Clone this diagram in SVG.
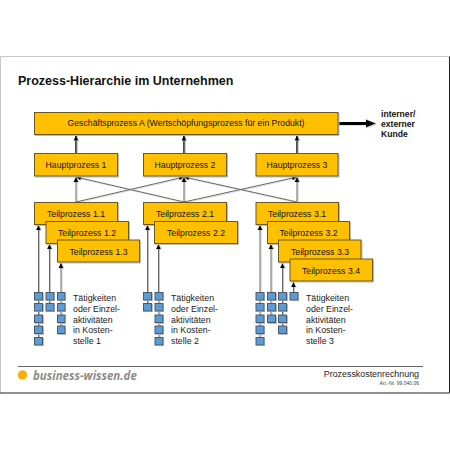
<svg xmlns="http://www.w3.org/2000/svg" width="450" height="450" viewBox="0 0 450 450">
<style>
text{font-family:"Liberation Sans",Arial,sans-serif;fill:#111}
.b{fill:#ffc000;stroke:#6b5a20;stroke-width:1;filter:url(#x)}
.t{font-size:8.7px;text-anchor:middle}
.q{fill:#5b9bd5;stroke:#4a5a68;stroke-width:1;filter:url(#x)}
.l{font-size:8.8px;fill:#222}
.c{fill:none;stroke:#666;stroke-width:1}
.k{fill:none;stroke:#111;stroke-width:1.5}
.u{font-size:8.6px;font-weight:bold}
</style>
<defs>
<marker id="a" markerUnits="userSpaceOnUse" markerWidth="6" markerHeight="6" refX="5" refY="3" orient="auto"><path d="M0 0.6L5 3L0 5.4Z" fill="#000"/></marker>
<filter id="x" x="-10%" y="-10%" width="120%" height="120%"><feDropShadow dx="1" dy="1" stdDeviation="0.4" flood-color="#bbb"/></filter>
<filter id="y" filterUnits="userSpaceOnUse" x="0" y="100" width="450" height="260"><feDropShadow dx="1" dy="0.5" stdDeviation="0.3" flood-color="#c4c4c4"/></filter>
</defs>
<rect x="0" y="57" width="450" height="336" fill="#fff"/>
<path d="M0.5 393V56.500H449" fill="none" stroke="#c8c8c8" stroke-width="1"/>
<path d="M0 393H449.500V56.500" fill="none" stroke="#222" stroke-width="1"/>
<text x="18" y="84.500" style="font-size:12.500px;font-weight:bold">Prozess-Hierarchie im Unternehmen</text>

<g id="connectors" filter="url(#y)">
<path d="M76 153V135.500" class="k" marker-end="url(#a)"/>
<path d="M184 153V135.500" class="k" marker-end="url(#a)"/>
<path d="M297 153V135.500" class="k" marker-end="url(#a)"/>
<path d="M338 123.500H368" fill="none" stroke="#000" stroke-width="3"/>
<path d="M366 119.500L376 123.500L366 127.500Z" fill="#000"/>
<path class="c" d="M76 202V177" marker-end="url(#a)"/>
<path class="c" d="M76 202L184 177" marker-end="url(#a)"/>
<path class="c" d="M184 202L76 177" marker-end="url(#a)"/>
<path class="c" d="M184 202V177" marker-end="url(#a)"/>
<path class="c" d="M184 202L297 177" marker-end="url(#a)"/>
<path class="c" d="M297 202L184 177" marker-end="url(#a)"/>
<path class="c" d="M297 202V177" marker-end="url(#a)"/>
<path class="c" d="M38.500 292V225" marker-end="url(#a)"/>
<path class="c" d="M49.500 292V244" marker-end="url(#a)"/>
<path class="c" d="M61 292V263" marker-end="url(#a)"/>
<path class="c" d="M147.500 292V225" marker-end="url(#a)"/>
<path class="c" d="M158.500 292V244" marker-end="url(#a)"/>
<path class="c" d="M260 292V225" marker-end="url(#a)"/>
<path class="c" d="M271 292V244" marker-end="url(#a)"/>
<path class="c" d="M282.500 292V263" marker-end="url(#a)"/>
<path class="c" d="M293.500 292V282" marker-end="url(#a)"/>
<path class="c" d="M38.500 300V338M61 300V327M49.500 300V305M147.500 300V305M159 300V338M260 300V338M271 300V316M282.500 300V327"/>
</g>

<g id="geschaeftsprozess"><rect class="b" x="34.500" y="112.500" width="303.500" height="22"/><text class="t" x="186" y="126">Geschäftsprozess A (Wertschöpfungsprozess für ein Produkt)</text></g>
<g id="kunde"><text class="u" x="381" y="117">interner/</text><text class="u" x="381" y="127">externer</text><text class="u" x="381" y="137">Kunde</text></g>
<g id="h1"><rect class="b" x="34.500" y="153.500" width="83" height="22.500"/><text class="t" x="76" y="168">Hauptprozess 1</text></g>
<g id="h2"><rect class="b" x="143.500" y="153.500" width="83" height="22.500"/><text class="t" x="185" y="168">Hauptprozess 2</text></g>
<g id="h3"><rect class="b" x="256" y="153.500" width="82" height="22.500"/><text class="t" x="297" y="168">Hauptprozess 3</text></g>

<g id="t11"><rect class="b" x="34.500" y="202.500" width="83" height="22"/><text class="t" x="76" y="217">Teilprozess 1.1</text></g>
<g id="t12"><rect class="b" x="46" y="221.500" width="82.500" height="22"/><text class="t" x="87" y="236">Teilprozess 1.2</text></g>
<g id="t13"><rect class="b" x="57.500" y="240" width="82" height="22"/><text class="t" x="98.500" y="255">Teilprozess 1.3</text></g>
<g id="t21"><rect class="b" x="143.500" y="202.500" width="83" height="22"/><text class="t" x="185" y="217">Teilprozess 2.1</text></g>
<g id="t22"><rect class="b" x="154.500" y="221.500" width="83" height="22"/><text class="t" x="196" y="236">Teilprozess 2.2</text></g>
<g id="t31"><rect class="b" x="256" y="202.500" width="82.500" height="22"/><text class="t" x="297" y="217">Teilprozess 3.1</text></g>
<g id="t32"><rect class="b" x="267.500" y="221.500" width="82" height="22"/><text class="t" x="308.500" y="236">Teilprozess 3.2</text></g>
<g id="t33"><rect class="b" x="278.500" y="240" width="82.500" height="22"/><text class="t" x="320" y="255">Teilprozess 3.3</text></g>
<g id="t34"><rect class="b" x="290" y="259" width="82.500" height="22"/><text class="t" x="331" y="274">Teilprozess 3.4</text></g>

<g id="activities1">
<rect class="q" x="34.500" y="292.500" width="8" height="7.500"/><rect class="q" x="34.500" y="303.500" width="8" height="7.500"/><rect class="q" x="34.500" y="315" width="8" height="7.500"/><rect class="q" x="34.500" y="326" width="8" height="7.500"/><rect class="q" x="34.500" y="337.500" width="8" height="7.500"/>
<rect class="q" x="46" y="292.500" width="8" height="7.500"/><rect class="q" x="46" y="303.500" width="8" height="7.500"/>
<rect class="q" x="57.500" y="292.500" width="7.500" height="7.500"/><rect class="q" x="57.500" y="303.500" width="7.500" height="7.500"/><rect class="q" x="57.500" y="315" width="7.500" height="7.500"/><rect class="q" x="57.500" y="326" width="7.500" height="7.500"/>
<text class="l" x="73" y="301">Tätigkeiten</text><text class="l" x="73" y="312">oder Einzel-</text><text class="l" x="73" y="322.500">aktivitäten</text><text class="l" x="73" y="333">in Kosten-</text><text class="l" x="73" y="344">stelle 1</text>
</g>
<g id="activities2">
<rect class="q" x="143.500" y="292.500" width="8" height="7.500"/><rect class="q" x="143.500" y="303.500" width="8" height="7.500"/>
<rect class="q" x="155" y="292.500" width="8" height="7.500"/><rect class="q" x="155" y="303.500" width="8" height="7.500"/><rect class="q" x="155" y="315" width="8" height="7.500"/><rect class="q" x="155" y="326" width="8" height="7.500"/><rect class="q" x="155" y="337.500" width="8" height="7.500"/>
<text class="l" x="171" y="301">Tätigkeiten</text><text class="l" x="171" y="312">oder Einzel-</text><text class="l" x="171" y="322.500">aktivitäten</text><text class="l" x="171" y="333">in Kosten-</text><text class="l" x="171" y="344">stelle 2</text>
</g>
<g id="activities3">
<rect class="q" x="256" y="292.500" width="8" height="7.500"/><rect class="q" x="256" y="303.500" width="8" height="7.500"/><rect class="q" x="256" y="315" width="8" height="7.500"/><rect class="q" x="256" y="326" width="8" height="7.500"/><rect class="q" x="256" y="337.500" width="8" height="7.500"/>
<rect class="q" x="267.500" y="292.500" width="8" height="7.500"/><rect class="q" x="267.500" y="303.500" width="8" height="7.500"/><rect class="q" x="267.500" y="315" width="8" height="7.500"/>
<rect class="q" x="278.500" y="292.500" width="8" height="7.500"/><rect class="q" x="278.500" y="303.500" width="8" height="7.500"/><rect class="q" x="278.500" y="315" width="8" height="7.500"/><rect class="q" x="278.500" y="326" width="8" height="7.500"/>
<rect class="q" x="290" y="292.500" width="8" height="7.500"/>
<text class="l" x="306" y="301">Tätigkeiten</text><text class="l" x="306" y="312">oder Einzel-</text><text class="l" x="306" y="322.500">aktivitäten</text><text class="l" x="306" y="333">in Kosten-</text><text class="l" x="306" y="344">stelle 3</text>
</g>

<path d="M18 366.500H423" stroke="#666" stroke-width="1" fill="none"/>
<circle cx="22.500" cy="375" r="4.700" fill="#f7b000"/>
<text x="33" y="379.500" style="font-size:11.500px;font-weight:bold;font-style:italic;fill:#8c8c8c;font-family:'Open Sans','Liberation Sans',sans-serif">business-wissen.de</text>
<text x="419" y="377" text-anchor="end" style="font-size:8.900px;fill:#222">Prozesskostenrechnung</text>
<text x="419" y="384.500" text-anchor="end" style="font-size:5px;fill:#444">Art.-Nr. 99.040.06</text>
</svg>
